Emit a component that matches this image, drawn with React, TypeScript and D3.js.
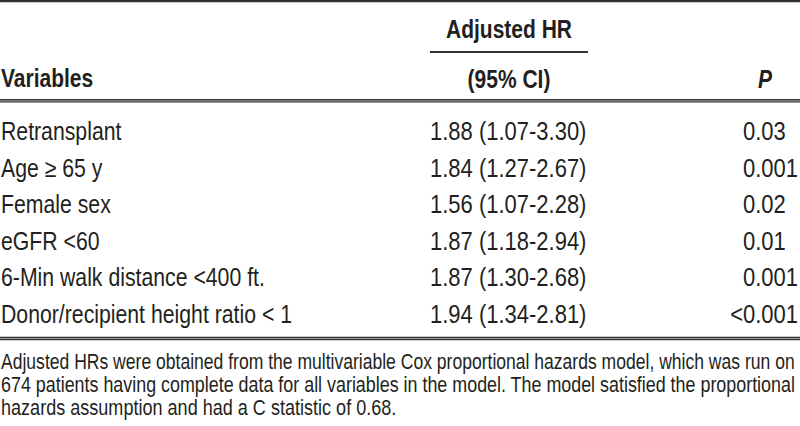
import { useLayoutEffect, useRef, useState } from "react";
import * as d3 from "d3";

const variables = [
  "Retransplant",
  "Age \u2265 65 y",
  "Female sex",
  "eGFR <60",
  "6-Min walk distance <400 ft.",
  "Donor/recipient height ratio < 1",
];
const hrValues = [1.88, 1.84, 1.56, 1.87, 1.87, 1.94];
const ciLow = [1.07, 1.27, 1.07, 1.18, 1.3, 1.34];
const ciHigh = [3.3, 2.67, 2.28, 2.94, 2.68, 2.81];
const pValues = ["0.03", "0.001", "0.02", "0.01", "0.001", "<0.001"];
const headers = ["Variables", "Adjusted HR", "(95% CI)", "P"];
const footnote = [
  "Adjusted HRs were obtained from the multivariable Cox proportional hazards model, which was run on",
  "674 patients having complete data for all variables in the model. The model satisfied the proportional",
  "hazards assumption and had a C statistic of 0.68.",
];

const W = 800;
const H = 426;
const FONT = "'Liberation Sans', Arial, Helvetica, sans-serif";
const INK = "#231f20";

type TProps = {
  x: number;
  y: number;
  text: string;
  size?: number;
  sx?: number;
  bold?: boolean;
  italic?: boolean;
  anchor?: "start" | "middle" | "end";
  fit?: number; // stretch/squeeze the line to this width (justified text)
};

// text squeezed horizontally to fake a condensed face
function CText({ x, y, text, size = 25, sx = 0.85, bold, italic, anchor = "start", fit }: TProps) {
  const ref = useRef<SVGTextElement>(null);
  const [scale, setScale] = useState(sx);
  useLayoutEffect(() => {
    if (fit && ref.current) {
      const natural = ref.current.getComputedTextLength();
      if (natural > 0) setScale(fit / natural);
    }
  }, [fit, text, size]);
  return (
    <g transform={`translate(${x},${y}) scale(${scale},1)`}>
      <text
        ref={ref}
        fontFamily={FONT}
        fontSize={size}
        fontWeight={bold ? "bold" : "normal"}
        fontStyle={italic ? "italic" : "normal"}
        textAnchor={anchor}
        fill={INK}
      >
        {text}
      </text>
    </g>
  );
}

function Rule({ y, x1 = 0, x2 = W, double = false, w = 2 }: { y: number; x1?: number; x2?: number; double?: boolean; w?: number }) {
  if (!double) return <line x1={x1} x2={x2} y1={y} y2={y} stroke="#333" strokeWidth={w} />;
  return (
    <g>
      <line x1={x1} x2={x2} y1={y + 1.1} y2={y + 1.1} stroke="#9a9a9a" strokeWidth={1.2} />
      <line x1={x1} x2={x2} y1={y} y2={y} stroke="#333" strokeWidth={1.3} />
      <line x1={x1} x2={x2} y1={y + 2.3} y2={y + 2.3} stroke="#333" strokeWidth={1.3} />
    </g>
  );
}

export default function App() {
  const fmt = d3.format(".2f");
  const rowY = d3.scaleLinear().domain([0, variables.length - 1]).range([140, 322.5]);
  const col = { variable: 1, hr: 430, hrCenter: 509, p: 743, pHead: 772 };
  const noteY = d3.scaleLinear().domain([0, 2]).range([369, 415]);
  const numSx = 0.88;

  return (
    <svg width={W} height={H} style={{ position: "absolute", left: 0, top: 0, background: "#fff" }}>
      <rect width={W} height={H} fill="#fff" />
      <Rule y={1.2} w={2.2} />

      {/* header */}
      <CText x={col.hrCenter} y={38} text={headers[1]} bold anchor="middle" sx={0.84} />
      <line x1={430} x2={588} y1={52} y2={52} stroke="#333" strokeWidth={2} />
      <CText x={col.variable} y={87} text={headers[0]} bold sx={0.84} />
      <CText x={col.hrCenter} y={88} text={headers[2]} bold anchor="middle" sx={0.84} />
      <CText x={col.pHead} y={88} text={headers[3]} bold italic anchor="end" sx={0.84} />
      <Rule y={99.6} double />

      {/* rows */}
      {variables.map((v, i) => {
        const p = pValues[i];
        const prefix = p.match(/^[^0-9]*/)?.[0] ?? "";
        const rest = p.slice(prefix.length);
        return (
          <g key={v}>
            <CText x={col.variable} y={rowY(i)} text={v} />
            <CText x={col.hr} y={rowY(i)} sx={numSx} text={`${fmt(hrValues[i])} (${fmt(ciLow[i])}-${fmt(ciHigh[i])})`} />
            {prefix && <CText x={col.p} y={rowY(i)} sx={numSx} text={prefix} anchor="end" />}
            <CText x={col.p} y={rowY(i)} sx={numSx} text={rest} />
          </g>
        );
      })}
      <Rule y={337.4} double />

      {/* footnote */}
      {footnote.map((line, i) => (
        <CText
          key={i}
          x={1}
          y={noteY(i)}
          text={line}
          size={21.5}
          sx={0.84}
          fit={i < footnote.length - 1 ? 794 : undefined}
        />
      ))}
    </svg>
  );
}
